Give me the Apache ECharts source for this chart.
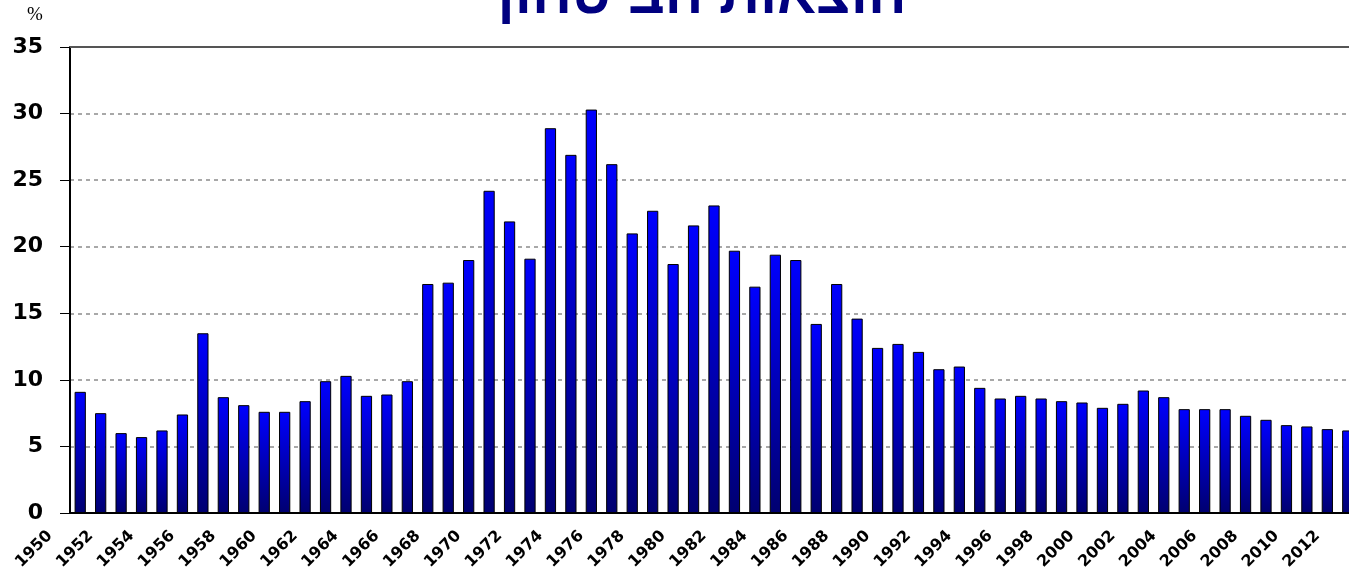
<!DOCTYPE html>
<html lang="he">
<head>
<meta charset="UTF-8">
<title>הוצאות הביטחון</title>
<script src="https://cdn.jsdelivr.net/npm/echarts@6/dist/echarts.min.js"></script>
<style>
  html, body { margin: 0; padding: 0; background: #fff; }
  #main { width: 1349px; height: 573px; }
</style>
</head>
<body>
<div id="main"></div>
<script>
// שנים
const years = [];
for (let y = 1950; y <= 2012; y++) years.push(String(y));

// הוצאות הביטחון, באחוזים
const values = [
  9.1, 7.5, 6.0, 5.7, 6.2, 7.4, 13.5, 8.7, 8.1, 7.6,
  7.6, 8.4, 9.9, 10.3, 8.8, 8.9, 9.9, 17.2, 17.3, 19.0,
  24.2, 21.9, 19.1, 28.9, 26.9, 30.3, 26.2, 21.0, 22.7, 18.7,
  21.6, 23.1, 19.7, 17.0, 19.4, 19.0, 14.2, 17.2, 14.6, 12.4,
  12.7, 12.1, 10.8, 11.0, 9.4, 8.6, 8.8, 8.6, 8.4, 8.3,
  7.9, 8.2, 9.2, 8.7, 7.8, 7.8, 7.8, 7.3, 7.0, 6.6,
  6.5, 6.3, 6.2
];

const yTicks = [0, 5, 10, 15, 20, 25, 30, 35];

let chart = echarts.init(document.getElementById('main'));

let option = {
  backgroundColor: '#fff',
  animation: false,
  title: {
    text: 'הוצאות הביטחון',
    left: 697,
    textAlign: 'center',
    top: -36,
    textStyle: {
      fontFamily: 'Liberation Sans, DejaVu Sans, sans-serif',
      fontWeight: 'bold',
      fontSize: 57,
      color: '#000080'
    }
  },
  graphic: [{
    type: 'text',
    left: 27,
    top: 6,
    style: {
      text: '%',
      font: '19px "Liberation Serif", serif',
      fill: '#000'
    }
  }],
  grid: {
    left: 70, top: 47, bottom: 60, width: 1288,
    containLabel: false,
    outerBoundsMode: 'none'
  },
  xAxis: [{
    type: 'category',
    data: years,
    boundaryGap: true,
    axisLine: { lineStyle: { color: '#000', width: 2 } },
    axisTick: { interval: 0, length: 5, lineStyle: { color: '#000' } },
    axisLabel: {
      interval: 1,
      rotate: 45,
      margin: -10,
      padding: [0, 43, 0, 0],
      color: '#000',
      fontFamily: 'DejaVu Sans, sans-serif',
      fontWeight: 'bold',
      fontSize: 16
    },
    splitLine: { show: false }
  }, {
    type: 'category',
    position: 'top',
    data: years,
    axisLine: { lineStyle: { color: '#555', width: 2 } },
    axisTick: { show: false },
    axisLabel: { show: false }
  }],
  yAxis: {
    type: 'value',
    min: 0,
    max: yTicks[yTicks.length - 1],
    interval: 5,
    axisLine: { show: true, lineStyle: { color: '#000', width: 2 } },
    axisTick: { show: true, length: 10, lineStyle: { color: '#000' } },
    axisLabel: {
      margin: 27,
      color: '#000',
      fontFamily: 'DejaVu Sans, sans-serif',
      fontWeight: 'bold',
      fontSize: 22
    },
    splitLine: { lineStyle: { color: '#8c8c8c', type: [4, 4], width: 1.5 } }
  },
  series: [{
    type: 'bar',
    data: values,
    barWidth: '55%',
    itemStyle: {
      borderColor: '#000',
      borderWidth: 1,
      color: new echarts.graphic.LinearGradient(0, 0, 0, 1, [
        { offset: 0, color: '#0000ff' },
        { offset: 1, color: '#000070' }
      ])
    }
  }]
};

chart.setOption(option);
</script>
</body>
</html>
